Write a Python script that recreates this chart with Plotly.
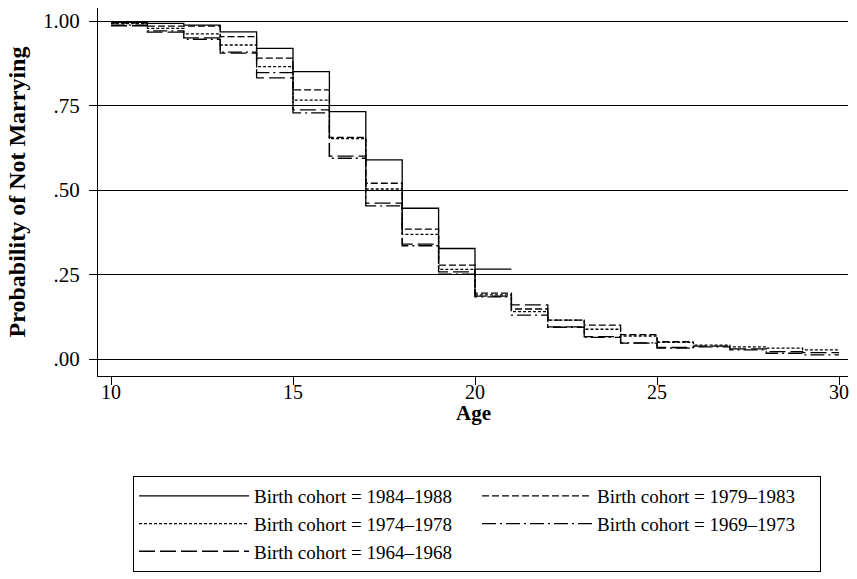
import plotly.graph_objects as go

# Value of each cohort's survival curve over the interval [age, age+1]
c1984_1988 = [0.996, 0.993, 0.988, 0.968, 0.919, 0.850, 0.732, 0.589, 0.446, 0.327, 0.266]
c1979_1983 = [0.994, 0.985, 0.985, 0.954, 0.890, 0.796, 0.656, 0.520, 0.384, 0.278, 0.195,
              0.148, 0.115, 0.100, 0.072, 0.051]
c1974_1978 = [0.992, 0.978, 0.962, 0.929, 0.865, 0.766, 0.652, 0.503, 0.369, 0.265, 0.190,
              0.140, 0.115, 0.088, 0.068, 0.049, 0.041, 0.036, 0.032, 0.027]
c1969_1973 = [0.988, 0.971, 0.946, 0.908, 0.847, 0.728, 0.594, 0.453, 0.335, 0.251, 0.184,
              0.130, 0.094, 0.064, 0.048, 0.032, 0.036, 0.027, 0.017, 0.012]
c1964_1968 = [0.986, 0.967, 0.950, 0.905, 0.832, 0.737, 0.600, 0.461, 0.340, 0.258, 0.186,
              0.160, 0.095, 0.066, 0.047, 0.034, 0.038, 0.030, 0.022, 0.019]

series_names = ["Birth cohort = 1984–1988", "Birth cohort = 1979–1983",
                "Birth cohort = 1974–1978", "Birth cohort = 1969–1973",
                "Birth cohort = 1964–1968"]
series_vals = [c1984_1988, c1979_1983, c1974_1978, c1969_1973, c1964_1968]
dashes = ["solid", "7px,3px", "3px,2px", "14px,4px,2px,4px", "16px,5px"]

start_age = 10
y_ticks = [0, 0.25, 0.5, 0.75, 1.0]
y_ticklabels = [".00", ".25", ".50", ".75", "1.00"]
x_ticks = [10, 15, 20, 25, 30]

FONT = "Liberation Serif"

fig = go.Figure()
for name, vals, dash in zip(series_names, series_vals, dashes):
    xs = [start_age + i for i in range(len(vals) + 1)]
    ys = list(vals) + [vals[-1]]
    fig.add_trace(go.Scatter(
        x=xs, y=ys, mode="lines", name=name,
        line=dict(color="black", width=1.3, dash=dash, shape="hv"),
    ))

fig.update_layout(
    width=857, height=579,
    margin=dict(l=98, r=9, t=8, b=203, autoexpand=False),
    paper_bgcolor="white", plot_bgcolor="white",
    font=dict(family=FONT, size=19, color="black"),
    showlegend=True,
    legend=dict(
        orientation="h",
        x=0.0467, y=-0.2717, xanchor="left", yanchor="top",
        entrywidth=218, entrywidthmode="pixels",
        itemwidth=110,
        bordercolor="black", borderwidth=1,
        font=dict(family=FONT, size=19, color="black"),
        traceorder="normal",
    ),
    annotations=[dict(
        text="<b>Age</b>", xref="paper", yref="paper", x=0.5, y=-0.1,
        xanchor="center", yanchor="middle", showarrow=False,
        font=dict(family=FONT, size=21, color="black"),
    )],
)
fig.update_xaxes(
    range=[9.643, 30.247],
    tickvals=x_ticks, ticktext=[str(v) for v in x_ticks],
    ticks="outside", ticklen=8, tickcolor="black", tickwidth=1,
    ticklabelstandoff=-10,
    showline=True, linecolor="black", linewidth=1,
    showgrid=False, zeroline=False,
    tickfont=dict(family=FONT, size=20),
)
fig.update_yaxes(
    range=[-0.0503, 1.0385],
    tickvals=y_ticks, ticktext=y_ticklabels,
    ticks="outside", ticklen=8, tickcolor="black", tickwidth=1,
    ticklabelstandoff=5,
    showline=True, linecolor="black", linewidth=1,
    showgrid=True, gridcolor="black", gridwidth=1,
    zeroline=False,
    tickfont=dict(family=FONT, size=21),
    title=dict(text="<b>Probability of Not Marrying</b>", font=dict(family=FONT, size=24), standoff=10),
)

fig.write_html("out.html")
